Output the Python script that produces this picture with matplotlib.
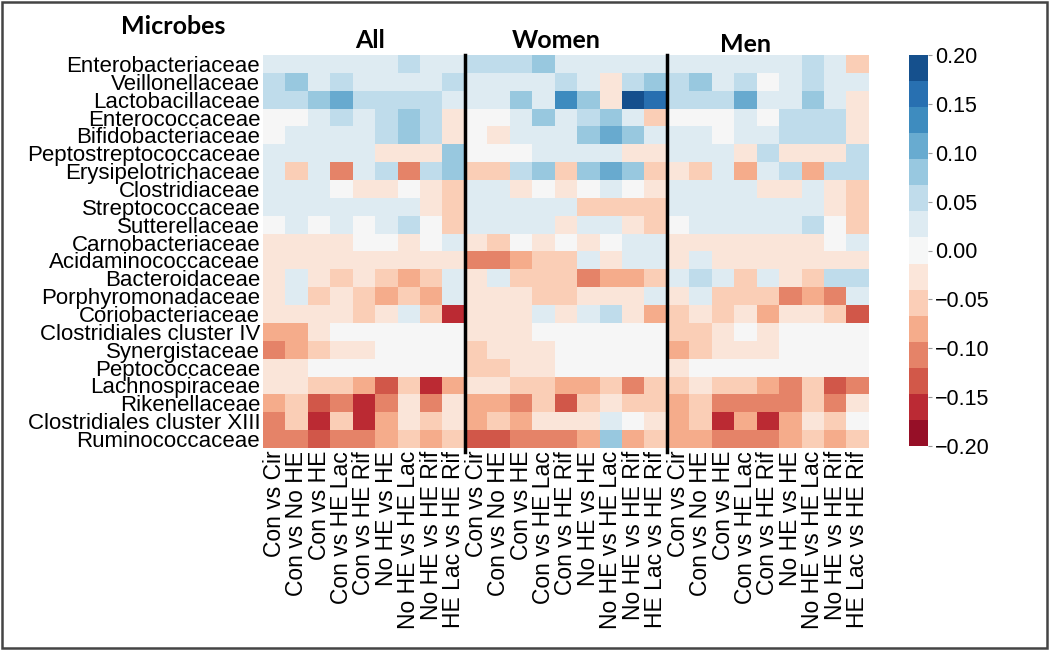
import numpy as np
import matplotlib
matplotlib.use('Agg')
import matplotlib.pyplot as plt
from matplotlib.colors import ListedColormap
from matplotlib.patches import Rectangle

microbes = ['Enterobacteriaceae', 'Veillonellaceae', 'Lactobacillaceae', 'Enterococcaceae',
            'Bifidobacteriaceae', 'Peptostreptococcaceae', 'Erysipelotrichaceae', 'Clostridiaceae',
            'Streptococcaceae', 'Sutterellaceae', 'Carnobacteriaceae', 'Acidaminococcaceae',
            'Bacteroidaceae', 'Porphyromonadaceae', 'Coriobacteriaceae', 'Clostridiales cluster IV',
            'Synergistaceae', 'Peptococcaceae', 'Lachnospiraceae', 'Rikenellaceae',
            'Clostridiales cluster XIII', 'Ruminococcaceae']

comparisons = ['Con vs Cir', 'Con vs No HE', 'Con vs HE', 'Con vs HE Lac', 'Con vs HE Rif',
               'No HE vs HE', 'No HE vs HE Lac', 'No HE vs HE Rif', 'HE Lac vs HE Rif']

groups = ['All', 'Women', 'Men']

# correlation values, one row per microbe, one column per comparison
all_vals = [
    [0.03, 0.03, 0.03, 0.03, 0.03, 0.03, 0.05, 0.03, 0.03],
    [0.05, 0.08, 0.03, 0.05, 0.03, 0.03, 0.03, 0.03, 0.05],
    [0.05, 0.05, 0.08, 0.11, 0.05, 0.05, 0.05, 0.05, 0.03],
    [0.0, 0.0, 0.03, 0.05, 0.03, 0.05, 0.08, 0.05, -0.03],
    [0.0, 0.03, 0.03, 0.03, 0.03, 0.05, 0.08, 0.05, -0.03],
    [0.03, 0.03, 0.03, 0.03, 0.03, -0.03, -0.03, -0.03, 0.08],
    [0.03, -0.05, 0.03, -0.11, 0.03, 0.05, -0.11, 0.05, 0.08],
    [0.03, 0.03, 0.03, 0.0, -0.03, -0.03, 0.0, -0.03, -0.05],
    [0.03, 0.03, 0.03, 0.03, 0.03, 0.03, 0.03, -0.03, -0.05],
    [0.0, 0.03, 0.0, 0.03, 0.0, 0.03, 0.05, 0.0, -0.05],
    [-0.03, -0.03, -0.03, -0.03, 0.0, 0.0, -0.03, 0.0, 0.03],
    [-0.03, -0.03, -0.03, -0.03, -0.03, -0.03, -0.03, -0.03, -0.03],
    [-0.03, 0.03, -0.03, -0.05, -0.03, -0.05, -0.08, -0.05, 0.03],
    [-0.03, 0.03, -0.05, -0.03, -0.05, -0.08, -0.05, -0.08, 0.03],
    [-0.03, -0.03, -0.03, -0.03, -0.05, -0.03, 0.03, -0.05, -0.16],
    [-0.08, -0.08, -0.03, 0.0, 0.0, 0.0, 0.0, 0.0, 0.0],
    [-0.11, -0.08, -0.05, -0.03, -0.03, 0.0, 0.0, 0.0, 0.0],
    [-0.03, -0.03, 0.0, 0.0, 0.0, 0.0, 0.0, 0.0, 0.0],
    [-0.03, -0.03, -0.05, -0.05, -0.08, -0.13, -0.05, -0.16, -0.08],
    [-0.08, -0.05, -0.13, -0.11, -0.16, -0.11, -0.03, -0.11, -0.03],
    [-0.11, -0.05, -0.16, -0.05, -0.16, -0.08, -0.03, -0.05, -0.03],
    [-0.11, -0.11, -0.13, -0.11, -0.11, -0.08, -0.05, -0.08, -0.05],
]

women_vals = [
    [0.05, 0.05, 0.05, 0.08, 0.03, 0.03, 0.03, 0.03, 0.03],
    [0.03, 0.03, 0.03, 0.03, 0.05, 0.03, -0.03, 0.05, 0.08],
    [0.03, 0.03, 0.08, 0.03, 0.13, 0.08, -0.03, 0.19, 0.16],
    [0.0, 0.0, 0.03, 0.08, 0.03, 0.05, 0.08, 0.03, -0.05],
    [0.0, -0.03, 0.03, 0.03, 0.03, 0.08, 0.11, 0.08, 0.03],
    [0.0, 0.0, 0.0, 0.03, 0.03, 0.03, 0.03, -0.03, -0.03],
    [-0.05, -0.05, 0.05, 0.08, -0.05, 0.08, 0.11, 0.08, -0.05],
    [0.03, 0.03, -0.03, 0.0, -0.03, 0.0, 0.03, 0.0, -0.03],
    [0.03, 0.03, 0.03, 0.03, 0.03, -0.05, -0.05, -0.05, -0.05],
    [0.03, 0.03, 0.03, 0.03, -0.03, 0.03, 0.03, -0.03, -0.05],
    [-0.03, -0.05, 0.0, -0.03, 0.0, -0.03, 0.0, 0.03, 0.03],
    [-0.11, -0.11, -0.08, -0.05, -0.05, 0.03, -0.03, 0.03, 0.03],
    [-0.03, 0.03, -0.05, -0.05, -0.05, -0.11, -0.08, -0.08, -0.05],
    [-0.03, -0.03, -0.03, -0.05, -0.05, -0.03, -0.03, -0.03, 0.03],
    [-0.03, -0.03, -0.03, 0.03, -0.03, 0.03, 0.05, -0.03, -0.08],
    [-0.03, -0.03, -0.03, 0.0, 0.0, 0.0, 0.0, 0.0, 0.0],
    [-0.05, -0.03, -0.03, -0.03, 0.0, 0.0, 0.0, 0.0, 0.0],
    [-0.05, -0.05, -0.03, -0.03, 0.0, 0.0, 0.0, 0.0, 0.0],
    [-0.03, -0.03, -0.05, -0.05, -0.08, -0.08, -0.05, -0.11, -0.05],
    [-0.08, -0.08, -0.11, -0.05, -0.13, -0.05, -0.03, -0.05, -0.05],
    [-0.08, -0.05, -0.08, -0.03, -0.03, -0.03, 0.03, 0.0, -0.03],
    [-0.13, -0.13, -0.11, -0.11, -0.11, -0.08, 0.08, -0.08, -0.05],
]

men_vals = [
    [0.03, 0.03, 0.03, 0.03, 0.03, 0.03, 0.05, 0.03, -0.05],
    [0.05, 0.08, 0.03, 0.05, 0.0, 0.03, 0.05, 0.03, 0.03],
    [0.05, 0.05, 0.05, 0.11, 0.03, 0.03, 0.08, 0.03, -0.03],
    [0.0, 0.0, 0.0, 0.03, 0.0, 0.05, 0.05, 0.05, -0.03],
    [0.03, 0.03, 0.0, 0.03, 0.03, 0.05, 0.05, 0.05, -0.03],
    [0.03, 0.03, 0.03, -0.03, 0.05, -0.03, -0.03, -0.03, 0.05],
    [-0.03, -0.05, 0.03, -0.08, 0.03, 0.05, -0.08, 0.05, 0.05],
    [0.03, 0.03, 0.03, 0.03, -0.03, -0.03, 0.03, -0.03, -0.05],
    [0.03, 0.03, 0.03, 0.03, 0.03, 0.03, 0.03, -0.03, -0.05],
    [0.0, 0.03, 0.03, 0.03, 0.03, 0.03, 0.05, 0.0, -0.05],
    [-0.03, -0.03, -0.03, -0.03, -0.03, -0.03, -0.03, 0.0, 0.03],
    [-0.03, 0.03, -0.03, -0.03, -0.03, -0.03, -0.03, -0.03, -0.03],
    [0.03, 0.05, 0.03, -0.05, 0.03, -0.03, -0.05, 0.05, 0.05],
    [-0.03, 0.03, -0.05, -0.05, -0.05, -0.11, -0.08, -0.11, 0.03],
    [-0.05, -0.03, -0.05, -0.03, -0.08, -0.03, -0.03, -0.05, -0.13],
    [-0.05, -0.05, -0.03, 0.0, -0.03, 0.0, 0.0, 0.0, 0.0],
    [-0.08, -0.05, -0.03, -0.03, -0.03, 0.0, 0.0, 0.0, 0.0],
    [-0.03, 0.0, 0.0, 0.0, 0.0, 0.0, 0.0, 0.0, 0.0],
    [-0.05, -0.03, -0.05, -0.05, -0.08, -0.11, -0.05, -0.13, -0.11],
    [-0.08, -0.05, -0.11, -0.11, -0.11, -0.11, -0.05, -0.11, -0.03],
    [-0.08, -0.05, -0.16, -0.08, -0.16, -0.08, -0.03, -0.05, 0.0],
    [-0.08, -0.08, -0.11, -0.11, -0.11, -0.08, -0.05, -0.08, -0.05],
]

cbar_ticks = [-0.20, -0.15, -0.10, -0.05, 0.00, 0.05, 0.10, 0.15, 0.20]

data = np.hstack([np.array(all_vals), np.array(women_vals), np.array(men_vals)])
xlabels = comparisons * len(groups)

# discrete RdBu, 15 levels, extremes dropped (like seaborn palette)
base = plt.get_cmap('RdBu')
cmap = ListedColormap(base(np.linspace(0, 1, 17)[1:-1]))

label_font = 'Liberation Sans'
plt.rcParams['font.family'] = [label_font, 'DejaVu Sans']

W, H = 1050, 650
fig = plt.figure(figsize=(10.5, 6.5), dpi=100)
ax = fig.add_axes([263 / W, 1 - 448 / H, 606 / W, 393 / H])

im = ax.imshow(data, cmap=cmap, vmin=-0.2, vmax=0.2, aspect='auto', interpolation='nearest')

n_rows, n_cols = data.shape
ax.set_yticks(np.arange(n_rows))
ax.set_yticklabels(microbes, fontsize=16)
ax.set_xticks(np.arange(n_cols))
ax.set_xticklabels(xlabels, fontsize=16.5, rotation=90)
ax.tick_params(length=0, pad=2)
for s in ax.spines.values():
    s.set_visible(False)

# separators between groups
for k in range(1, len(groups)):
    ax.axvline(k * len(comparisons) - 0.5, color='black', lw=2.5, ymin=-0.01, ymax=1.0, clip_on=False)

# titles
title_kw = dict(family=['Lato', 'DejaVu Sans'], fontweight='bold', fontsize=18, ha='center', va='center')
fig.text(173 / W, 1 - 27 / H, 'Microbes', **title_kw)
for g, (x, y) in zip(groups, [(370, 40), (556, 40), (746, 44)]):
    fig.text(x / W, 1 - y / H, g, **title_kw)

# colorbar
cax = fig.add_axes([909 / W, 1 - 446 / H, 19 / W, 391 / H])
cb = fig.colorbar(im, cax=cax, ticks=cbar_ticks)
cb.outline.set_visible(False)
cb.ax.set_yticklabels([f'{t:.2f}'.replace('-', '\u2212') for t in cbar_ticks], fontsize=15.5)
cb.ax.tick_params(length=3, width=0.8, color='#999999', pad=2)

# outer frame
fig.patches.append(Rectangle((0.002, 0.003), 0.995, 0.994, transform=fig.transFigure,
                             fill=False, edgecolor='#444444', lw=1.8))

fig.savefig('out.png', dpi=100)
